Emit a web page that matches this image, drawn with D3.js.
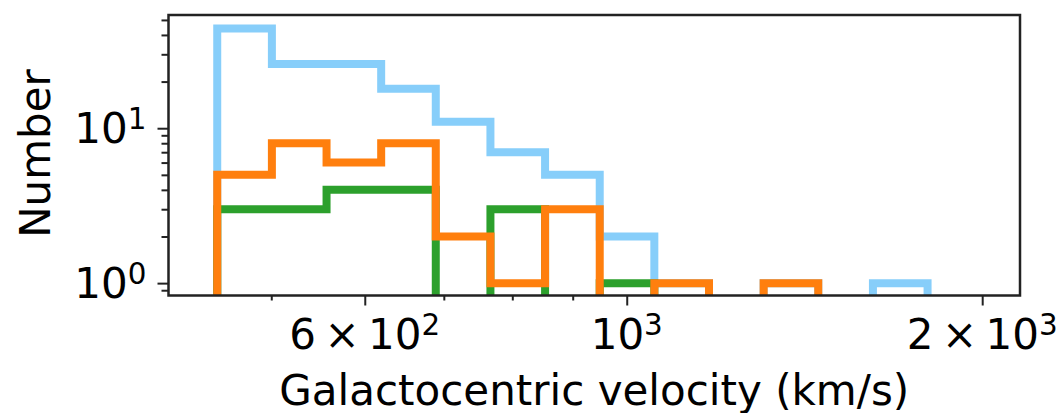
<!DOCTYPE html>
<html>
<head>
<meta charset="utf-8">
<script src="https://cdn.jsdelivr.net/npm/d3@7"></script>
<style>
  html, body { margin: 0; padding: 0; background: #fff; }
  svg { display: block; }
  text { font-family: "DejaVu Sans", sans-serif; fill: #000; }
</style>
</head>
<body>
<svg id="chart" width="1059" height="413"></svg>
<script>
// Log-spaced velocity bin edges (km/s)
const binEdges = [450, 500.6, 556.9, 619.5, 689.1, 766.6, 852.8, 948.7,
                  1055.3, 1174.0, 1306.0, 1452.8, 1616.2, 1797.9, 2000];

// Counts per bin for each sample (drawn in this order)
const allCounts    = [44, 26, 26, 18, 11, 7, 5, 2, 1, 0, 1, 0, 1, 0];
const greenCounts  = [3, 3, 4, 4, 0, 3, 0, 1, 0, 0, 0, 0, 0, 0];
const orangeCounts = [5, 8, 6, 8, 2, 1, 3, 0, 1, 0, 1, 0, 0, 0];

const seriesColors = ["#87cefa", "#2ca02c", "#ff7f0e"];

const xMajorTicks = [600, 1000, 2000];
const xMajorLabels = [["6\u2009×\u200910", "2"], ["10", "3"], ["2\u2009×\u200910", "3"]];
const xMinorTicks = [500, 700, 800, 900];
const yMajorTicks = [1, 10];
const yMajorLabels = [["10", "0"], ["10", "1"]];
const yMinorTicks = [0.9, 2, 3, 4, 5, 6, 7, 8, 9, 20, 30, 40, 50];

const xDomain = [409.2, 2153];
const yDomain = [0.832, 53.8];

const margin = { left: 168.5, right: 39, top: 15, bottom: 117.5 };
const W = 1059, H = 413;
const pw = W - margin.left - margin.right;
const ph = H - margin.top - margin.bottom;

const svg = d3.select("#chart");
const g = svg.append("g").attr("transform", `translate(${margin.left},${margin.top})`);

const x = d3.scaleLog().domain(xDomain).range([0, pw]);
const y = d3.scaleLog().domain(yDomain).range([ph, 0]);

// Empty bins fall far below the axis and are clipped away
const yv = v => y(v > 0 ? v : 1e-3);

g.append("clipPath").attr("id", "plotclip")
  .append("rect").attr("x", 0).attr("y", 0).attr("width", pw).attr("height", ph);

function stepPoints(counts) {
  const pts = [[binEdges[0], 0]];
  counts.forEach((c, i) => {
    pts.push([binEdges[i], c]);
    pts.push([binEdges[i + 1], c]);
  });
  pts.push([binEdges[binEdges.length - 1], 0]);
  return pts;
}

const line = d3.line().x(d => x(d[0])).y(d => yv(d[1]));

const plot = g.append("g").attr("clip-path", "url(#plotclip)");
[allCounts, greenCounts, orangeCounts].forEach((counts, i) => {
  plot.append("path")
    .attr("d", line(stepPoints(counts)))
    .attr("fill", "none")
    .attr("stroke", seriesColors[i])
    .attr("stroke-width", 8)
    .attr("stroke-linejoin", "miter")
    .attr("stroke-linecap", "butt");
});

// Frame
g.append("rect")
  .attr("x", 0).attr("y", 0).attr("width", pw).attr("height", ph)
  .attr("fill", "none").attr("stroke", "#222").attr("stroke-width", 2.5);

const fs = 42;

// X axis ticks
const xAxisMajor = d3.axisBottom(x).tickValues(xMajorTicks).tickSize(10).tickFormat("");
const xAxisMinor = d3.axisBottom(x).tickValues(xMinorTicks).tickSize(5).tickFormat("");
[xAxisMajor, xAxisMinor].forEach(ax => {
  const a = g.append("g").attr("transform", `translate(0,${ph})`).call(ax);
  a.select(".domain").remove();
  a.selectAll("line").attr("stroke", "#222").attr("stroke-width", 2);
});

xMajorTicks.forEach((t, i) => {
  const txt = g.append("text")
    .attr("x", x(t)).attr("y", ph + 53)
    .attr("text-anchor", "middle")
    .attr("font-size", fs);
  txt.append("tspan").text(xMajorLabels[i][0]);
  txt.append("tspan").attr("font-size", fs * 0.7).attr("dy", -14).text(xMajorLabels[i][1]);
});

// Y axis ticks
const yAxisMajor = d3.axisLeft(y).tickValues(yMajorTicks).tickSize(11).tickFormat("");
const yAxisMinor = d3.axisLeft(y).tickValues(yMinorTicks).tickSize(7).tickFormat("");
[yAxisMajor, yAxisMinor].forEach(ax => {
  const a = g.append("g").call(ax);
  a.select(".domain").remove();
  a.selectAll("line").attr("stroke", "#222").attr("stroke-width", 2);
});

yMajorTicks.forEach((t, i) => {
  const txt = g.append("text")
    .attr("x", -22).attr("y", y(t) + 15)
    .attr("text-anchor", "end")
    .attr("font-size", fs);
  txt.append("tspan").text(yMajorLabels[i][0]);
  txt.append("tspan").attr("font-size", fs * 0.7).attr("dy", -14).text(yMajorLabels[i][1]);
});

// Axis titles
svg.append("text")
  .attr("x", margin.left + pw / 2).attr("y", 405)
  .attr("text-anchor", "middle")
  .attr("font-size", fs)
  .text("Galactocentric velocity (km/s)");

svg.append("text")
  .attr("transform", "translate(50,153.5) rotate(-90)")
  .attr("text-anchor", "middle")
  .attr("font-size", fs)
  .text("Number");
</script>
</body>
</html>
